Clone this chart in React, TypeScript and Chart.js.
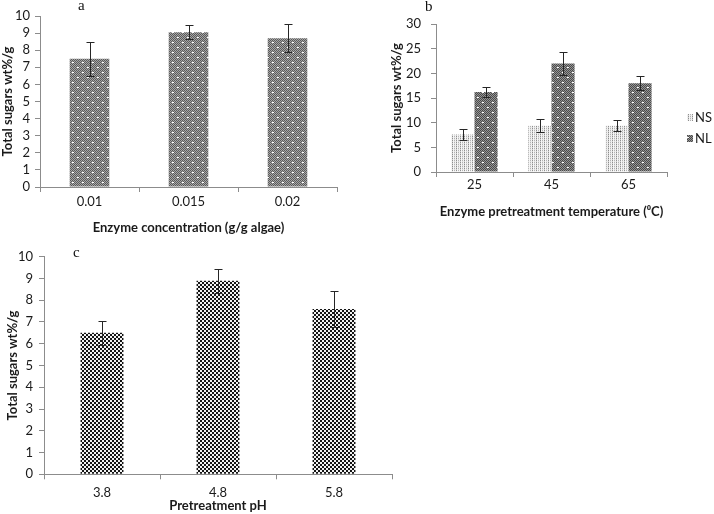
import React, { useEffect, useRef } from 'react';
import { Chart, registerables } from 'chart.js';
Chart.register(...registerables);

// ---- data ----
const concCategories = ['0.01', '0.015', '0.02'];
const concValues = [7.5, 9.05, 8.7];
const concErrors = [1.0, 0.42, 0.83];

const tempCategories = ['25', '45', '65'];
const nsValues = [7.6, 9.4, 9.4];
const nsErrors = [1.1, 1.3, 1.1];
const nlValues = [16.2, 22.0, 18.0];
const nlErrors = [1.0, 2.4, 1.4];

const phCategories = ['3.8', '4.8', '5.8'];
const phValues = [6.5, 8.9, 7.6];
const phErrors = [0.55, 0.55, 0.83];

const yTitle = 'Total sugars wt%/g';
const concTitle = 'Enzyme concentration (g/g algae)';
const tempTitle = 'Enzyme pretreatment temperature (\u2070C)';
const phTitle = 'Pretreatment pH';
const seriesNames = ['NS', 'NL'];

const FONT = 'Lato, "Open Sans", sans-serif';
const FS = 13;
const AXIS_COLOR = '#8c8c8c';
const TEXT_COLOR = '#1a1a1a';

function makePattern(ctx: CanvasRenderingContext2D, w: number, h: number, draw: (t: CanvasRenderingContext2D) => void) {
  const tile = document.createElement('canvas');
  tile.width = w;
  tile.height = h;
  const t = tile.getContext('2d')!;
  draw(t);
  return ctx.createPattern(tile, 'repeat')!;
}

function dotted(dark: string, light: string) {
  return (t: CanvasRenderingContext2D) => {
    for (let x = 0; x < 10; x++)
      for (let y = 0; y < 10; y++) {
        t.fillStyle = (x + y) % 2 === 0 ? dark : light;
        t.fillRect(x, y, 1, 1);
      }
    t.fillStyle = '#ffffff';
    t.fillRect(2, 2, 2, 1);
    t.fillRect(7, 7, 2, 1);
  };
}

function stripes(t: CanvasRenderingContext2D) {
  const cols = [['#8e8e8e', '#d2d2d2'], ['#f6f6f6', '#f6f6f6'], ['#b4b4b4', '#e2e2e2'], ['#f6f6f6', '#ececec']];
  cols.forEach((c, x) => {
    c.forEach((col, y) => {
      t.fillStyle = col;
      t.fillRect(x, y, 1, 1);
    });
  });
}

function checker(t: CanvasRenderingContext2D) {
  t.fillStyle = '#f2f2f2';
  t.fillRect(0, 0, 4, 4);
  t.fillStyle = '#141414';
  t.fillRect(0, 0, 2, 2);
  t.fillRect(2, 2, 2, 2);
}

const errorBarPlugin = {
  id: 'errorBars',
  afterDatasetsDraw(chart: any) {
    const ctx = chart.ctx;
    const yScale = chart.scales.y;
    chart.data.datasets.forEach((ds: any, di: number) => {
      if (!ds.errors) return;
      const meta = chart.getDatasetMeta(di);
      ctx.save();
      ctx.strokeStyle = '#262626';
      ctx.lineWidth = 1;
      meta.data.forEach((bar: any, i: number) => {
        const v = ds.data[i];
        const e = ds.errors[i];
        const x = Math.round(bar.x) + 0.5;
        const yt = Math.round(yScale.getPixelForValue(v + e)) + 0.5;
        const yb = Math.round(yScale.getPixelForValue(v - e)) + 0.5;
        const cap = ds.capHalf ?? 4;
        ctx.beginPath();
        ctx.moveTo(x, yt);
        ctx.lineTo(x, yb);
        ctx.moveTo(x - cap, yt);
        ctx.lineTo(x + cap, yt);
        ctx.moveTo(x - cap, yb);
        ctx.lineTo(x + cap, yb);
        ctx.stroke();
      });
      ctx.restore();
    });
  },
};

function sideLegend(x: number, ys: number[]) {
  return {
    id: 'sideLegend',
    afterDraw(chart: any) {
      const ctx = chart.ctx;
      ctx.save();
      chart.data.datasets.forEach((ds: any, i: number) => {
        const y = ys[i];
        ctx.fillStyle = ds.backgroundColor;
        ctx.fillRect(x, y - 4, 6, 7);
        ctx.fillStyle = TEXT_COLOR;
        ctx.font = `${FS}px ${FONT}`;
        ctx.textBaseline = 'middle';
        ctx.textAlign = 'left';
        ctx.fillText(ds.label, x + 8, y);
      });
      ctx.restore();
    },
  };
}

interface AxisCfg {
  yMax: number;
  yStep: number;
  padTop: number;
  padRight: number;
  yWidth: number;
  xHeight: number;
  yTitlePad: number;
  yTickPad: number;
  xTickPad: number;
  xTitlePadBottom: number;
  xTitle: string;
}

function buildOptions(c: AxisCfg): any {
  return {
    responsive: false,
    animation: false,
    events: [],
    layout: { padding: { left: 0, top: c.padTop, right: c.padRight, bottom: 0 } },
    plugins: { legend: { display: false }, tooltip: { enabled: false } },
    scales: {
      x: {
        type: 'category',
        grid: { display: true, drawOnChartArea: false, drawTicks: true, tickLength: 5, color: AXIS_COLOR, offset: true },
        border: { display: true, color: AXIS_COLOR, width: 1 },
        ticks: { font: { family: FONT, size: FS }, color: TEXT_COLOR, padding: c.xTickPad, maxRotation: 0, autoSkip: false },
        title: {
          display: true,
          text: c.xTitle,
          font: { family: FONT, size: FS, weight: 'bold' },
          color: TEXT_COLOR,
          padding: { top: 0, bottom: c.xTitlePadBottom },
        },
        afterFit: (s: any) => {
          s.height = c.xHeight;
        },
      },
      y: {
        min: 0,
        max: c.yMax,
        grid: { display: true, drawOnChartArea: false, drawTicks: true, tickLength: 5, color: AXIS_COLOR },
        border: { display: true, color: AXIS_COLOR, width: 1 },
        ticks: { stepSize: c.yStep, autoSkip: false, font: { family: FONT, size: FS }, color: TEXT_COLOR, padding: c.yTickPad },
        title: {
          display: true,
          text: yTitle,
          font: { family: FONT, size: FS, weight: 'bold' },
          color: TEXT_COLOR,
          padding: { top: c.yTitlePad, bottom: 0 },
        },
        afterFit: (s: any) => {
          s.width = c.yWidth;
        },
      },
    },
  };
}

const letterStyle: React.CSSProperties = {
  position: 'absolute',
  fontFamily: '"Liberation Serif", "DejaVu Serif", serif',
  fontSize: 15,
  lineHeight: '15px',
  color: '#111',
};

export default function App() {
  const refA = useRef<HTMLCanvasElement>(null);
  const refB = useRef<HTMLCanvasElement>(null);
  const refC = useRef<HTMLCanvasElement>(null);

  useEffect(() => {
    const charts: Chart[] = [];
    const ctxA = refA.current!.getContext('2d')!;
    const ctxB = refB.current!.getContext('2d')!;
    const ctxC = refC.current!.getContext('2d')!;

    const patA = makePattern(ctxA, 10, 10, dotted('#5a5a5a', '#a6a6a6'));
    const patNS = makePattern(ctxB, 4, 2, stripes);
    const patNL = makePattern(ctxB, 10, 10, dotted('#4a4a4a', '#959595'));
    const patC = makePattern(ctxC, 4, 4, checker);

    charts.push(
      new Chart(ctxA, {
        type: 'bar',
        data: {
          labels: concCategories,
          datasets: [
            {
              label: 'a',
              data: concValues,
              errors: concErrors,
              capHalf: 4,
              backgroundColor: patA,
              borderWidth: 0,
              categoryPercentage: 1,
              barPercentage: 0.4,
            } as any,
          ],
        },
        options: buildOptions({
          yMax: 10, yStep: 1, padTop: 16, padRight: 13, yWidth: 40, xHeight: 53,
          yTitlePad: 0.2, yTickPad: 5, xTickPad: 2, xTitlePadBottom: 4, xTitle: concTitle,
        }),
        plugins: [errorBarPlugin],
      })
    );

    charts.push(
      new Chart(ctxB, {
        type: 'bar',
        data: {
          labels: tempCategories,
          datasets: [
            {
              label: seriesNames[0],
              data: nsValues,
              errors: nsErrors,
              capHalf: 4,
              backgroundColor: patNS,
              borderWidth: 0,
              categoryPercentage: 0.6,
              barPercentage: 1,
            } as any,
            {
              label: seriesNames[1],
              data: nlValues,
              errors: nlErrors,
              capHalf: 4,
              backgroundColor: patNL,
              borderWidth: 0,
              categoryPercentage: 0.6,
              barPercentage: 1,
            } as any,
          ],
        },
        options: buildOptions({
          yMax: 30, yStep: 5, padTop: 24, padRight: 47, yWidth: 76, xHeight: 68,
          yTitlePad: 29, yTickPad: 10, xTickPad: 0, xTitlePadBottom: 20.5, xTitle: tempTitle,
        }),
        plugins: [errorBarPlugin, sideLegend(327, [118, 139])],
      })
    );

    charts.push(
      new Chart(ctxC, {
        type: 'bar',
        data: {
          labels: phCategories,
          datasets: [
            {
              label: 'c',
              data: phValues,
              errors: phErrors,
              capHalf: 4,
              backgroundColor: patC,
              borderWidth: 0,
              categoryPercentage: 1,
              barPercentage: 0.37,
            } as any,
          ],
        },
        options: buildOptions({
          yMax: 10, yStep: 1, padTop: 16.7, padRight: 8, yWidth: 44, xHeight: 39.7,
          yTitlePad: 5.2, yTickPad: 6, xTickPad: 6, xTitlePadBottom: 0, xTitle: phTitle,
        }),
        plugins: [errorBarPlugin],
      })
    );

    return () => {
      charts.forEach((c) => c.destroy());
    };
  }, []);

  return (
    <div style={{ position: 'fixed', left: 0, top: 0, width: 714, height: 514, background: '#ffffff', overflow: 'hidden' }}>
      <canvas ref={refA} width={350} height={240} style={{ position: 'absolute', left: 0, top: 0, display: 'block' }} />
      <canvas ref={refB} width={354} height={240} style={{ position: 'absolute', left: 360, top: 0, display: 'block' }} />
      <canvas ref={refC} width={400} height={274} style={{ position: 'absolute', left: 0, top: 240, display: 'block' }} />
      <div style={{ ...letterStyle, left: 78, top: -2 }}>a</div>
      <div style={{ ...letterStyle, left: 425, top: -1 }}>b</div>
      <div style={{ ...letterStyle, left: 73, top: 245 }}>c</div>
    </div>
  );
}
